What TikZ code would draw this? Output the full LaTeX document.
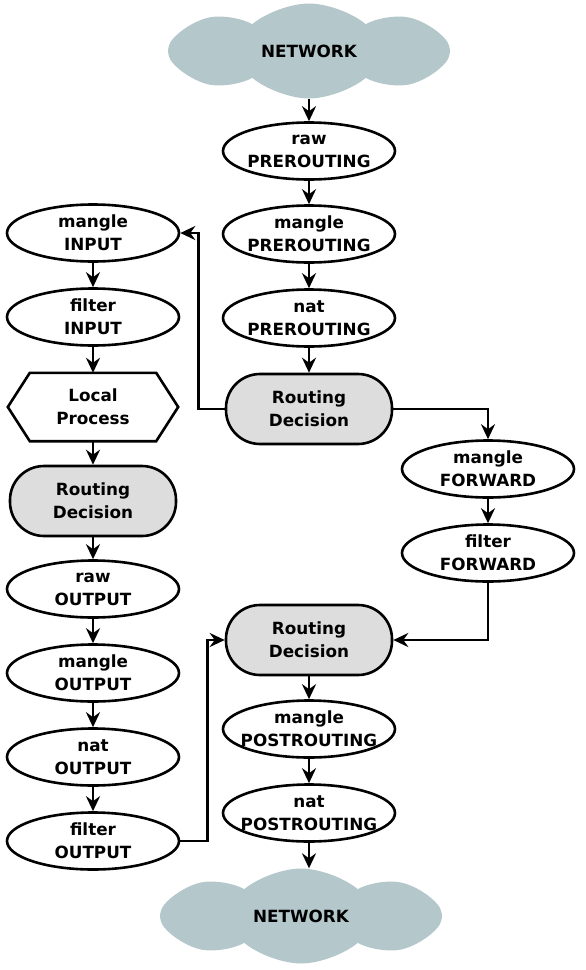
\documentclass[tikz,border=0pt]{standalone}
\usepackage{fontspec}
\setmainfont{DejaVu Sans}
\usetikzlibrary{shapes.geometric,shapes.symbols,arrows.meta}
\definecolor{cloudc}{RGB}{180,199,203}
\definecolor{rdc}{RGB}{221,221,221}
\begin{document}
\begin{tikzpicture}[x=1pt,y=-1pt,
  every node/.style={font=\fontsize{16.8}{23}\selectfont\bfseries, align=center},
  chain/.style={ellipse, draw, line width=2.6pt, minimum width=172, minimum height=57, inner xsep=-40pt, inner ysep=-18pt, fill=white},
  rdec/.style={rectangle, draw, line width=2.6pt, fill=rdc, rounded corners=34pt, minimum width=166, minimum height=70},
  net/.style={cloud, cloud puffs=8, cloud puff arc=80, aspect=3, fill=cloudc, minimum width=282, minimum height=95, inner sep=0pt},
  arr/.style={line width=2.6pt, -{Stealth[length=15pt,width=14pt,inset=5pt]}}
]
\useasboundingbox (0,0) rectangle (586,970);
% center column
\node[net] (n1) at (309,51) {NETWORK};
\node[chain] (rp) at (309,151) {raw\\PREROUTING};
\node[chain] (mp) at (309,234) {mangle\\PREROUTING};
\node[chain] (np) at (309,318) {nat\\PREROUTING};
\node[rdec] (rd1) at (309,409) {Routing\\Decision};
% left column
\node[chain] (mi) at (93,233) {mangle\\INPUT};
\node[chain] (fi) at (93,317) {filter\\INPUT};
\node[rectangle, minimum width=170, minimum height=68, inner sep=0pt] (lp) at (93,407) {Local\\Process};
\draw[line width=2.6pt, line join=miter] (lp.west) -- ([xshift=22]lp.north west) -- ([xshift=-22]lp.north east) -- (lp.east) -- ([xshift=-22]lp.south east) -- ([xshift=22]lp.south west) -- cycle;
\node[rdec] (rd2) at (93,501) {Routing\\Decision};
\node[chain] (ro) at (93,589) {raw\\OUTPUT};
\node[chain] (mo) at (93,673) {mangle\\OUTPUT};
\node[chain] (no) at (93,757) {nat\\OUTPUT};
\node[chain] (fo) at (93,841) {filter\\OUTPUT};
% right column
\node[chain] (mf) at (488,469) {mangle\\FORWARD};
\node[chain] (ff) at (488,553) {filter\\FORWARD};
% bottom center
\node[rdec] (rd3) at (309,640) {Routing\\Decision};
\node[chain] (mpo) at (309,729) {mangle\\POSTROUTING};
\node[chain] (npo) at (309,813) {nat\\POSTROUTING};
\node[net] (n2) at (301,916) {NETWORK};
% connectors
\draw[arr] (n1.south -| rp.north) -- (rp.north);
\draw[arr] (rp) -- (mp);
\draw[arr] (mp) -- (np);
\draw[arr] (np) -- (rd1);
\draw[arr] (mi) -- (fi);
\draw[arr] (fi) -- (lp);
\draw[arr] (lp) -- (rd2);
\draw[arr] (rd2) -- (ro);
\draw[arr] (ro) -- (mo);
\draw[arr] (mo) -- (no);
\draw[arr] (no) -- (fo);
\draw[arr] (mf) -- (ff);
\draw[arr] (rd3) -- (mpo);
\draw[arr] (mpo) -- (npo);
\draw[arr] (npo.south) -- (npo.south |- n2.north);
\draw[arr] (rd1.west) -- ++(-26,0) |- (mi.east);
\draw[arr] (rd1.east) -| (mf.north);
\draw[arr] (ff.south) |- (rd3.east);
\draw[arr] (fo.east) -- ++(27,0) |- (rd3.west);
\end{tikzpicture}
\end{document}
